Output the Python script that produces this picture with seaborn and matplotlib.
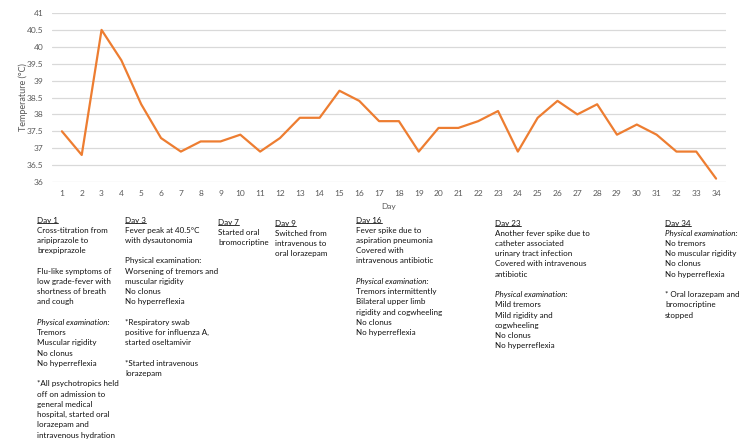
import numpy as np
import pandas as pd
import matplotlib
matplotlib.use("Agg")
import matplotlib.pyplot as plt
from matplotlib.lines import Line2D
import seaborn as sns

days = list(range(1, 35))
temps = [37.5, 36.8, 40.5, 39.6, 38.3, 37.3, 36.9, 37.2, 37.2, 37.4,
         36.9, 37.3, 37.9, 37.9, 38.7, 38.4, 37.8, 37.8, 36.9, 37.6,
         37.6, 37.8, 38.1, 36.9, 37.9, 38.4, 38.0, 38.3, 37.4, 37.7,
         37.4, 36.9, 36.9, 36.1]
y_ticks = [36, 36.5, 37, 37.5, 38, 38.5, 39, 39.5, 40, 40.5, 41]

# annotation blocks: "_" prefix = underlined heading, "/" prefix = italic
day1_notes = ["_Day 1", "Cross-titration from", "aripiprazole to", "brexpiprazole", "",
              "Flu-like symptoms of", "low grade-fever with", "shortness of breath", "and cough", "",
              "/Physical examination:", "Tremors", "Muscular rigidity", "No clonus", "No hyperreflexia", "",
              "*All psychotropics held", "off on admission to", "general medical",
              "hospital, started oral", "lorazepam and", "intravenous hydration"]
day3_notes = ["_Day 3", "Fever peak at 40.5°C", "with dysautonomia", "",
              "Physical examination:", "Worsening of tremors and", "muscular rigidity", "No clonus",
              "No hyperreflexia", "", "*Respiratory swab", "positive for influenza A,",
              "started oseltamivir", "", "*Started intravenous", "lorazepam"]
day7_notes = ["_Day 7", "Started oral", "bromocriptine"]
day9_notes = ["_Day 9", "Switched from", "intravenous to", "oral lorazepam"]
day16_notes = ["_Day 16", "Fever spike due to", "aspiration pneumonia", "Covered with",
               "intravenous antibiotic", "", "/Physical examination:", "Tremors intermittently",
               "Bilateral upper limb", "rigidity and cogwheeling", "No clonus", "No hyperreflexia"]
day23_notes = ["_Day 23", "Another fever spike due to", "catheter associated",
               "urinary tract infection", "Covered with intravenous", "antibiotic", "",
               "/Physical examination:", "Mild tremors", "Mild rigidity and", "cogwheeling",
               "No clonus", "No hyperreflexia"]
day34_notes = ["_Day 34", "/Physical examination:", "No tremors", "No muscular rigidity",
               "No clonus", "No hyperreflexia", "", "* Oral lorazepam and", "bromocriptine", "stopped"]

df = pd.DataFrame({"Day": days, "Temperature": temps})

sns.set_style("white")
plt.rcParams["font.family"] = ["Lato", "DejaVu Sans"]

W, H = 750, 444
fig = plt.figure(figsize=(7.5, 4.44), dpi=100)
ax = fig.add_axes([52 / W, 1 - 182 / H, (726 - 52) / W, (182 - 13) / H])

sns.lineplot(data=df, x="Day", y="Temperature", color="#ED7D31", linewidth=1.6, ax=ax)

ax.set_xlim(0.5, 34.5)
ax.set_ylim(36, 41)
ax.set_xticks(days)
ax.set_xticklabels([str(d) for d in days])
ax.set_yticks(y_ticks)
ax.set_yticklabels([f"{t:g}" for t in y_ticks])
ax.grid(axis="y", color="#D9D9D9", linewidth=0.9)
ax.set_axisbelow(True)
for s in ax.spines.values():
    s.set_visible(False)
ax.tick_params(axis="both", length=0, labelsize=6, labelcolor="#595959")
ax.tick_params(axis="x", pad=6)
ax.tick_params(axis="y", pad=6)
ax.set_xlabel("Day", fontsize=6, color="#595959", labelpad=4)
ax.set_ylabel("Temperature (°C)", fontsize=6.5, color="#595959")
ax.yaxis.set_label_coords(-0.036, 0.5)

blocks = [(37, 220, day1_notes), (125, 220, day3_notes), (218, 222, day7_notes),
          (275, 223, day9_notes), (356, 220, day16_notes), (495, 223, day23_notes),
          (665, 223, day34_notes)]
step = 10.24
underlined = []
for x0, y0, lines in blocks:
    for i, line in enumerate(lines):
        if not line:
            continue
        style = "normal"
        ul = False
        if line.startswith("_"):
            line = line[1:]
            ul = True
        elif line.startswith("/"):
            line = line[1:]
            style = "italic"
        t = fig.text(x0 / W, 1 - (y0 + i * step) / H, line, fontsize=5.8,
                     style=style, ha="left", va="center", color="#111111")
        if ul:
            underlined.append(t)

fig.canvas.draw()
r = fig.canvas.get_renderer()
for t in underlined:
    bb = t.get_window_extent(renderer=r)
    fig.add_artist(Line2D([bb.x0 / W, bb.x1 / W], [(bb.y0 + 0.5) / H, (bb.y0 + 0.5) / H],
                          transform=fig.transFigure, color="#111111", linewidth=0.6))

fig.savefig("out.png", dpi=100)
